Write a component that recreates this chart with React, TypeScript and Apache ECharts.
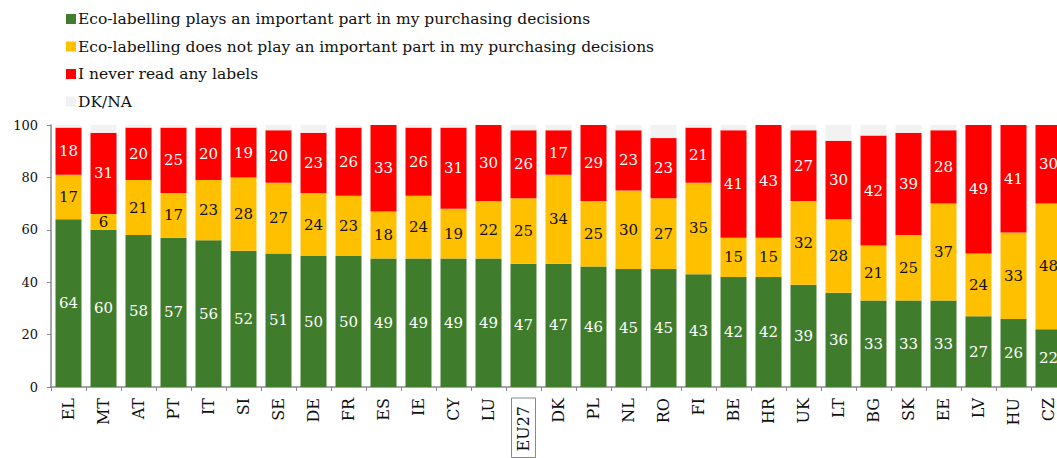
import React, { useEffect, useRef } from "react";
import * as echarts from "echarts";

const categories = ["EL","MT","AT","PT","IT","SI","SE","DE","FR","ES","IE","CY","LU","EU27","DK","PL","NL","RO","FI","BE","HR","UK","LT","BG","SK","EE","LV","HU","CZ"];
const important = [64,60,58,57,56,52,51,50,50,49,49,49,49,47,47,46,45,45,43,42,42,39,36,33,33,33,27,26,22];
const notImportant = [17,6,21,17,23,28,27,24,23,18,24,19,22,25,34,25,30,27,35,15,15,32,28,21,25,37,24,33,48];
const neverRead = [18,31,20,25,20,19,20,23,26,33,26,31,30,26,17,29,23,23,21,41,43,27,30,42,39,28,49,41,30];
const dkna = [1,3,1,1,1,1,2,3,1,0,1,1,0,2,2,0,2,5,1,2,0,2,6,4,3,2,0,0,0];
const yTicks = [0,20,40,60,80,100];

const seriesNames = [
  "Eco-labelling plays an important part in my purchasing decisions",
  "Eco-labelling does not play an important part in my purchasing decisions",
  "I never read any labels",
  "DK/NA",
];

const SERIF = "DejaVu Serif";

export default function App() {
  const ref = useRef<HTMLDivElement>(null);
  useEffect(() => {
    if (!ref.current) return;
    const chart = echarts.init(ref.current, null, { renderer: "svg" });
    const mk = (name: string, data: number[], color: string, labelColor: string | null) => ({
      name,
      type: "bar",
      stack: "all",
      data,
      barWidth: 26,
      itemStyle: { color },
      label: labelColor
        ? { show: true, position: "inside", color: labelColor, fontFamily: SERIF, fontSize: 15 }
        : { show: false },
      emphasis: { disabled: true },
    });
    chart.setOption({
      animation: false,
      legend: {
        orient: "vertical",
        left: 61,
        top: 6,
        itemWidth: 10,
        itemHeight: 10,
        itemGap: 11.5,
        icon: "rect",
        textStyle: { fontFamily: SERIF, fontSize: 15.5, color: "#111", padding: [0, 0, 0, -3] },
        data: seriesNames,
      },
      grid: { left: 51, top: 125, width: 1015, height: 262, containLabel: false, outerBoundsMode: "none" },
      xAxis: {
        type: "category",
        data: categories,
        axisLine: { lineStyle: { color: "#888", width: 1.5 } },
        axisTick: { show: true, length: 4, lineStyle: { color: "#888" } },
        axisLabel: {
          rotate: 90,
          interval: 0,
          margin: 11,
          fontFamily: SERIF,
          fontSize: 16,
          color: "#111",
          formatter: (v: string) => (v === "EU27" ? "{box|" + v + "}" : v),
          rich: {
            box: {
              fontFamily: SERIF,
              fontSize: 16,
              color: "#111",
              borderColor: "#888",
              borderWidth: 1,
              padding: [4, 8, 4, 6],
            },
          },
        },
      },
      yAxis: {
        type: "value",
        min: 0,
        max: 100,
        interval: 20,
        axisLine: { show: true, lineStyle: { color: "#888", width: 1.5 } },
        axisTick: { show: true, length: 4, lineStyle: { color: "#888" } },
        splitLine: { show: false },
        axisLabel: {
          fontFamily: SERIF,
          fontSize: 13,
          color: "#111",
          margin: 13,
          formatter: (v: number) => (yTicks.includes(v) ? String(v) : ""),
        },
      },
      series: [
        mk(seriesNames[0], important, "#3f7d2c", "#ffffff"),
        mk(seriesNames[1], notImportant, "#ffc000", "#111111"),
        mk(seriesNames[2], neverRead, "#ff0000", "#ffffff"),
        mk(seriesNames[3], dkna, "#f2f2f2", null),
      ],
    });
    return () => chart.dispose();
  }, []);
  return <div ref={ref} style={{ width: 1057, height: 458, position: "absolute", left: 0, top: 0 }} />;
}
